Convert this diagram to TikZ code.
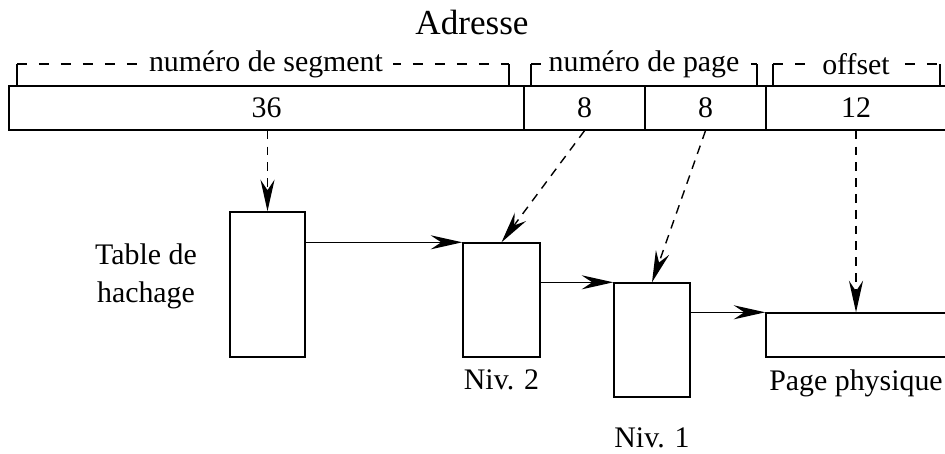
\documentclass[tikz,border=0pt]{standalone}
\usepackage{fontspec}
\setmainfont{Liberation Serif}
\usetikzlibrary{arrows.meta,positioning}

\tikzset{
	field/.style={draw, thick, rectangle, inner sep=0pt, minimum height=0.88cm},
	table/.style={draw, thick, rectangle, inner sep=0pt},
	lbl/.style={inner sep=1pt, font=\fontsize{17}{21.6}\selectfont},
	brace/.style={thick, dash pattern=on 0.2cm off 0.24cm},
	brlbl/.style={fill=white, inner xsep=6pt, inner ysep=1pt, font=\fontsize{17}{20}\selectfont},
	ptr/.style={thick, -{Stealth[length=18pt,width=8pt,inset=6pt]}},
	dptr/.style={ptr, dash pattern=on 5pt off 4pt},
}

\begin{document}
\begin{tikzpicture}[x=0.02cm, y=-0.02cm]
	\useasboundingbox (0,0) rectangle (945,453);
	\node[lbl, font=\fontsize{20}{24}\selectfont] (adr) at (472,22) {Adresse};

	% les champs de l'adresse
	\node[field, minimum width=10.3cm] (seg) at (266.5,108) {\fontsize{17}{20}\selectfont 36};
	\node[field, minimum width=2.42cm] (pg2) at (584.5,108) {\fontsize{17}{20}\selectfont 8};
	\node[field, minimum width=2.42cm] (pg1) at (705.5,108) {\fontsize{17}{20}\selectfont 8};
	\node[field, minimum width=3.6cm] (off) at (856,108) {\fontsize{17}{20}\selectfont 12};

	% accolades
	\draw[thick] (17,85) -- (17,64) (509,64) -- (509,85);
	\draw[brace] (17,64) -- (509,64);
	\node[brlbl] (segl) at (266,64) {numéro de segment};
	\draw[thick] (531,85) -- (531,64) (757,64) -- (757,85);
	\draw[brace] (531,64) -- (757,64);
	\node[brlbl, inner xsep=3pt] (pgl) at (644,64) {numéro de page};
	\draw[thick] (773,85) -- (773,64) (940,64) -- (940,85);
	\draw[brace] (773,64) -- (940,64);
	\node[brlbl] (offl) at (856,64) {offset};

	% les tables
	\node[table, minimum width=1.5cm, minimum height=2.9cm] (hash) at (267.5,284.5) {};
	\node[table, minimum width=1.54cm, minimum height=2.28cm] (niv2) at (501.5,300) {};
	\node[table, minimum width=1.52cm, minimum height=2.28cm] (niv1) at (652,340) {};
	\node[table, minimum width=3.6cm, minimum height=0.88cm] (page) at (856,335) {};

	\node[lbl, align=center] (hashl) at (146,276) {Table de\\hachage};
	\node[lbl] (niv2l) [below=0.2cm of niv2] {Niv. 2};
	\node[lbl] (niv1l) [below=0.55cm of niv1] {Niv. 1};
	\node[lbl] (pagel) [below=0.2cm of page] {Page physique};

	\draw[ptr] (hash.east |- niv2.north) -- (niv2.north west);
	\draw[ptr] (niv2.east |- niv1.north) -- (niv1.north west);
	\draw[ptr] (niv1.east |- page.north) -- (page.north west);

	\draw[dptr] (seg.south -| hash.north) -- (hash.north);
	\draw[dptr] (pg2.south) -- (niv2.north);
	\draw[dptr] (pg1.south) -- (niv1.north);
	\draw[dptr] (off.south -| page.north) -- (page.north);
\end{tikzpicture}
\end{document}
